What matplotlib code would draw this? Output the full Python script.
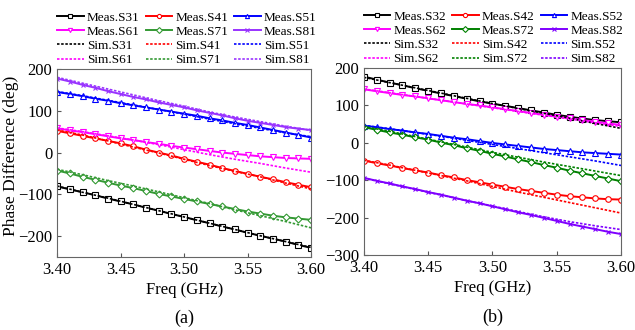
import matplotlib
matplotlib.use('Agg')
import matplotlib.pyplot as plt
import numpy as np

plt.rcParams['font.family'] = 'Liberation Serif'
plt.rcParams['mathtext.fontset'] = 'stix'

# frequency points (GHz)
freq_meas = np.round(np.arange(3.40, 3.6001, 0.01), 2)
freq_sim = np.round(np.arange(3.40, 3.6001, 0.02), 2)

# ---- panel (a) measured ----
meas_s31 = [-81, -88, -95, -102, -110, -117, -124, -132, -139, -147, -154,
            -162, -169, -177, -184, -192, -199, -206, -213, -221, -228]
meas_s41 = [52, 46, 40, 34, 28, 22, 15, 7, 0, -7, -15,
            -22, -29, -37, -44, -51, -58, -64, -71, -77, -83]
meas_s51 = [145, 140, 135, 129, 124, 118, 113, 108, 103, 98, 93,
            88, 82, 77, 71, 66, 60, 54, 48, 42, 36]
meas_s61 = [58, 53, 49, 44, 39, 34, 30, 25, 21, 16, 12,
            8, 4, 0, -3, -6, -9, -11, -13, -14, -15]
meas_s71 = [-43, -50, -58, -65, -72, -79, -85, -92, -99, -105, -111,
            -117, -123, -129, -135, -141, -146, -151, -155, -158, -161]
meas_s81 = [177, 170, 162, 155, 147, 140, 133, 127, 120, 114, 108,
            101, 95, 89, 82, 76, 71, 66, 61, 57, 54]

# ---- panel (a) simulated ----
sim_s31 = [-80, -95, -109, -124, -139, -154, -169, -184, -199, -213, -227]
sim_s41 = [54, 42, 28, 13, -1, -16, -31, -45, -58, -73, -87]
sim_s51 = [146, 136, 125, 114, 103, 92, 80, 69, 58, 47, 38]
sim_s61 = [59, 50, 40, 30, 19, 7, -5, -16, -26, -37, -47]
sim_s71 = [-40, -53, -67, -80, -94, -108, -122, -137, -151, -165, -180]
sim_s81 = [180, 166, 152, 138, 124, 111, 97, 85, 74, 63, 53]

# ---- panel (b) measured ----
meas_s32 = [177, 169, 161, 154, 146, 139, 132, 125, 118, 111, 105,
            99, 93, 87, 81, 75, 70, 65, 61, 58, 55]
meas_s42 = [-47, -54, -60, -67, -73, -79, -86, -92, -99, -105, -111,
            -117, -123, -128, -133, -138, -142, -145, -148, -150, -151]
meas_s52 = [46, 42, 37, 33, 28, 24, 19, 14, 10, 5, 0,
            -4, -8, -12, -16, -19, -22, -25, -27, -29, -31]
meas_s62 = [143, 138, 133, 128, 124, 119, 114, 109, 104, 100, 95,
            90, 85, 80, 75, 70, 66, 61, 57, 52, 48]
meas_s72 = [42, 35, 28, 22, 15, 9, 1, -6, -14, -21, -29,
            -36, -44, -51, -59, -66, -74, -81, -88, -95, -102]
meas_s82 = [-93, -101, -108, -116, -123, -131, -138, -146, -154, -161, -169,
            -177, -185, -192, -200, -208, -216, -223, -230, -237, -243]

# ---- panel (b) simulated ----
sim_s32 = [175, 161, 147, 133, 119, 105, 92, 79, 66, 52, 39]
sim_s42 = [-46, -59, -73, -87, -101, -116, -131, -145, -159, -173, -187]
sim_s52 = [47, 38, 28, 18, 7, -4, -15, -26, -37, -48, -60]
sim_s62 = [144, 134, 124, 114, 104, 94, 84, 74, 64, 54, 44]
sim_s72 = [44, 31, 17, 3, -11, -25, -38, -51, -63, -75, -87]
sim_s82 = [-94, -109, -124, -139, -154, -168, -183, -197, -210, -221, -231]

ports = ['3', '4', '5', '6', '7', '8']
markers = ['s', 'o', '^', 'v', 'D', 'x']
colors_a = ['#000000', '#ff0000', '#0000ff', '#ff00ff', '#339933', '#9933ff']
colors_b = ['#000000', '#ff0000', '#0000ff', '#ff00ff', '#008000', '#7f00ff']


def draw_panel(ax, meas, sim, colors, out_port, tag, tag_y):
    meas_h = []
    sim_h = []
    for i, p in enumerate(ports):
        mk = markers[i]
        ms = 4 if mk not in ('D', 'x') else 3.5
        h, = ax.plot(freq_meas, meas[i], color=colors[i], lw=1.4,
                     marker=mk, ms=ms, mfc='white', mew=0.8,
                     label=f'Meas.S{p}{out_port}')
        meas_h.append(h)
    for i, p in enumerate(ports):
        h, = ax.plot(freq_sim, sim[i], color=colors[i], lw=1.2,
                     ls=(0, (1.5, 1)), label=f'Sim.S{p}{out_port}')
        sim_h.append(h)

    # legend is filled row by row in the original, matplotlib fills columns
    rows = [meas_h[0:3], meas_h[3:6], sim_h[0:3], sim_h[3:6]]
    handles = [rows[r][c] for c in range(3) for r in range(4)]
    leg = ax.legend(handles=handles, labels=[h.get_label() for h in handles],
                    ncol=3, loc='lower left', bbox_to_anchor=(0.0, 1.015),
                    borderaxespad=0, frameon=False, fontsize=9.5,
                    handlelength=2.0, handletextpad=0.25, labelspacing=0.15,
                    columnspacing=0.45, borderpad=0)
    # smaller markers in the legend, as in the original
    for lh in leg.legend_handles:
        lh.set_markersize(3)

    ax.set_xlim(3.40, 3.60)
    ax.set_xticks([3.40, 3.45, 3.50, 3.55, 3.60])
    ax.set_xticklabels(['3.40', '3.45', '3.50', '3.55', '3.60'])
    ax.tick_params(direction='in', labelsize=12, length=3, color='#555555')
    for s in ax.spines.values():
        s.set_color('#666666')
    ax.set_xlabel('Freq (GHz)', fontsize=12, labelpad=3)
    ax.text(0.5, tag_y, tag, transform=ax.transAxes, ha='center',
            va='center', fontsize=13)


fig = plt.figure(figsize=(6.35, 3.3), dpi=100)
ax_a = fig.add_axes([0.090, 0.221, 0.400, 0.570])
ax_b = fig.add_axes([0.573, 0.226, 0.405, 0.568])

draw_panel(ax_a,
           [meas_s31, meas_s41, meas_s51, meas_s61, meas_s71, meas_s81],
           [sim_s31, sim_s41, sim_s51, sim_s61, sim_s71, sim_s81],
           colors_a, '1', '(a)', -0.325)
ax_a.set_ylim(-250, 200)
ax_a.set_yticks([-200, -100, 0, 100, 200])
ax_a.set_ylabel('Phase Difference (deg)', fontsize=12.5)
ax_a.yaxis.set_label_coords(-0.15, 0.537)

draw_panel(ax_b,
           [meas_s32, meas_s42, meas_s52, meas_s62, meas_s72, meas_s82],
           [sim_s32, sim_s42, sim_s52, sim_s62, sim_s72, sim_s82],
           colors_b, '2', '(b)', -0.33)
ax_b.set_ylim(-300, 200)
ax_b.set_yticks([-300, -200, -100, 0, 100, 200])

fig.savefig('out.png', dpi=100)
